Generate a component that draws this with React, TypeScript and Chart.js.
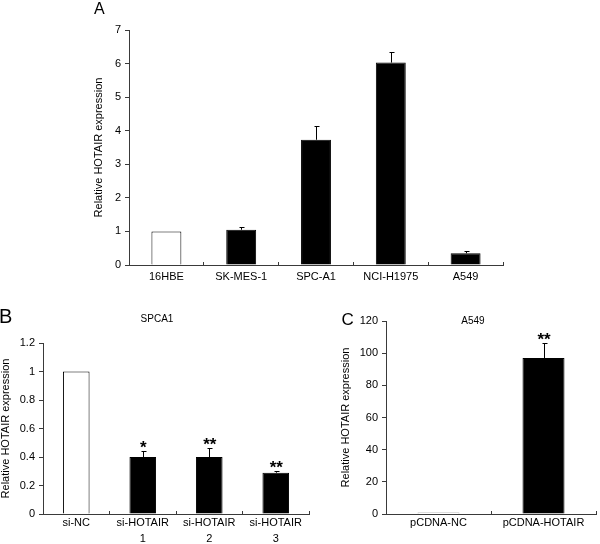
import { useEffect, useRef } from "react";
import { Chart, registerables } from "chart.js";

Chart.register(...registerables);

const FONT = "'Liberation Sans', Arial, Helvetica, sans-serif";
const AXIS = "#3a3a3a";
const Y_TITLE = "Relative HOTAIR expression";

// ---- Panel A data ----
const categoriesA = ["16HBE", "SK-MES-1", "SPC-A1", "NCI-H1975", "A549"];
const valuesA = [1.0, 1.05, 3.73, 6.03, 0.35];
const errorsA = [0, 0.09, 0.4, 0.3, 0.06];
const starsA = ["", "", "", "", ""];
const yTicksA = { min: 0, max: 7, step: 1 };

// ---- Panel B data ----
const categoriesB = [["si-NC"], ["si-HOTAIR", "1"], ["si-HOTAIR", "2"], ["si-HOTAIR", "3"]];
const valuesB = [1.0, 0.4, 0.4, 0.29];
const errorsB = [0, 0.04, 0.06, 0.015];
const starsB = ["", "*", "**", "**"];
const yTicksB = { min: 0, max: 1.2, step: 0.2 };
const subtitleB = "SPCA1";

// ---- Panel C data ----
const categoriesC = ["pCDNA-NC", "pCDNA-HOTAIR"];
const valuesC = [1, 97];
const errorsC = [0, 9.5];
const starsC = ["", "**"];
const yTicksC = { min: 0, max: 120, step: 20 };
const subtitleC = "A549";

const errorBarPlugin = {
  id: "errorBars",
  afterDatasetsDraw(chart: any, _args: any, opts: any) {
    const ctx = chart.ctx;
    const yScale = chart.scales.y;
    const meta = chart.getDatasetMeta(0);
    const data = chart.data.datasets[0].data as number[];
    ctx.save();
    ctx.strokeStyle = "#000";
    ctx.lineWidth = 1;
    meta.data.forEach((el: any, i: number) => {
      const err = opts.errors[i] || 0;
      const x = Math.round(el.x) + 0.5;
      const yTop = yScale.getPixelForValue(data[i] + err);
      const yt = Math.round(yTop) + 0.5;
      if (err > 0) {
        ctx.beginPath();
        ctx.moveTo(x, el.y);
        ctx.lineTo(x, yt);
        ctx.moveTo(x - opts.cap, yt);
        ctx.lineTo(x + opts.cap + 1, yt);
        ctx.stroke();
      }
      const star = opts.stars[i];
      if (star) {
        ctx.font = `bold ${opts.starSize}px ${FONT}`;
        ctx.fillStyle = "#000";
        ctx.textAlign = "center";
        ctx.textBaseline = "alphabetic";
        ctx.fillText(star, el.x + 0.5, yTop + opts.starOffset);
      }
    });
    ctx.restore();
  },
};

const panelTextPlugin = {
  id: "panelText",
  afterDraw(chart: any, _args: any, opts: any) {
    const ctx = chart.ctx;
    ctx.save();
    ctx.fillStyle = "#000";
    for (const t of opts.items || []) {
      ctx.font = `${t.weight || "normal"} ${t.size}px ${FONT}`;
      ctx.textAlign = t.align;
      ctx.textBaseline = t.baseline;
      ctx.fillText(t.text, t.x, t.y);
    }
    ctx.restore();
  },
};

type PanelProps = {
  left: number;
  top: number;
  width: number;
  height: number;
  labels: any[];
  values: number[];
  errors: number[];
  stars: string[];
  yTicks: { min: number; max: number; step: number };
  area: { left: number; top: number; right: number; bottom: number };
  titleCenterX: number;
  xTickPadding: number;
  xLineHeight: number;
  borderColors: string[];
  texts: any[];
  starOffset: number;
};

function Panel(p: PanelProps) {
  const ref = useRef<HTMLCanvasElement | null>(null);
  useEffect(() => {
    if (!ref.current) return;
    const chart = new Chart(ref.current, {
      type: "bar",
      data: {
        labels: p.labels,
        datasets: [
          {
            data: p.values,
            backgroundColor: p.values.map((_, i) => (i === 0 ? "#ffffff" : "#000000")),
            borderColor: p.borderColors,
            borderWidth: 1,
            categoryPercentage: 1,
            barPercentage: 0.4,
          },
        ],
      },
      options: {
        responsive: false,
        animation: false,
        devicePixelRatio: 1,
        layout: {
          padding: { left: 0, top: p.area.top, right: p.width - p.area.right, bottom: 0 },
        },
        plugins: {
          legend: { display: false },
          tooltip: { enabled: false },
          title: { display: false },
          errorBars: { errors: p.errors, stars: p.stars, cap: 2, starSize: 17, starOffset: p.starOffset },
          panelText: { items: p.texts },
        } as any,
        scales: {
          x: {
            offset: true,
            grid: {
              display: true,
              offset: true,
              drawOnChartArea: false,
              drawTicks: true,
              tickLength: -3,
              color: AXIS,
            },
            border: { display: true, color: AXIS, width: 1 },
            ticks: {
              color: "#000",
              font: { family: FONT, size: 11, lineHeight: p.xLineHeight },
              padding: p.xTickPadding,
              maxRotation: 0,
              minRotation: 0,
              autoSkip: false,
            },
            afterFit: (s: any) => {
              s.height = p.height - p.area.bottom;
            },
          },
          y: {
            min: p.yTicks.min,
            max: p.yTicks.max,
            ticks: {
              stepSize: p.yTicks.step,
              color: "#000",
              font: { family: FONT, size: 11 },
              padding: 4,
              callback: (v: any) => String(Number(Number(v).toFixed(4))),
            },
            grid: {
              display: true,
              drawOnChartArea: false,
              drawTicks: true,
              tickLength: 4,
              color: AXIS,
            },
            border: { display: true, color: AXIS, width: 1 },
            title: {
              display: true,
              text: Y_TITLE,
              color: "#000",
              font: { family: FONT, size: 11, lineHeight: 1 },
              padding: { top: Math.max(0, p.titleCenterX - 5.5), bottom: 0 },
            },
            afterFit: (s: any) => {
              s.width = p.area.left;
            },
          },
        },
      } as any,
      plugins: [errorBarPlugin, panelTextPlugin],
    });
    return () => chart.destroy();
  }, []);
  return (
    <canvas
      ref={ref}
      width={p.width}
      height={p.height}
      style={{ position: "absolute", left: p.left, top: p.top, width: p.width, height: p.height }}
    />
  );
}

export default function App() {
  return (
    <div
      style={{
        position: "absolute",
        left: 0,
        top: 0,
        width: 600,
        height: 544,
        background: "#fff",
        overflow: "hidden",
      }}
    >
      <Panel
        left={0}
        top={0}
        width={600}
        height={300}
        labels={categoriesA}
        values={valuesA}
        errors={errorsA}
        stars={starsA}
        yTicks={yTicksA}
        area={{ left: 129, top: 30, right: 503, bottom: 265 }}
        titleCenterX={99}
        xTickPadding={8.4}
        xLineHeight={1.2}
        borderColors={categoriesA.map(() => "#000")}
        starOffset={2}
        texts={[{ text: "A", x: 94, y: 13.5, size: 16, align: "left", baseline: "alphabetic" }]}
      />
      <Panel
        left={0}
        top={300}
        width={320}
        height={244}
        labels={categoriesB}
        values={valuesB}
        errors={errorsB}
        stars={starsB}
        yTicks={yTicksB}
        area={{ left: 43, top: 43, right: 309, bottom: 214 }}
        titleCenterX={5}
        xTickPadding={3.5}
        xLineHeight={1.5}
        borderColors={categoriesB.map(() => "#000")}
        starOffset={2}
        texts={[
          { text: "B", x: -1, y: 23, size: 20, align: "left", baseline: "alphabetic" },
          { text: subtitleB, x: 157, y: 19, size: 10, align: "center", baseline: "middle" },
        ]}
      />
      <Panel
        left={300}
        top={300}
        width={300}
        height={244}
        labels={categoriesC}
        values={valuesC}
        errors={errorsC}
        stars={starsC}
        yTicks={yTicksC}
        area={{ left: 86, top: 21, right: 296, bottom: 214 }}
        titleCenterX={46}
        xTickPadding={3.5}
        xLineHeight={1.5}
        borderColors={["#777", "#000"]}
        starOffset={2}
        texts={[
          { text: "C", x: 41.5, y: 25, size: 17, align: "left", baseline: "alphabetic" },
          { text: subtitleC, x: 173, y: 21, size: 10, align: "center", baseline: "middle" },
        ]}
      />
    </div>
  );
}
